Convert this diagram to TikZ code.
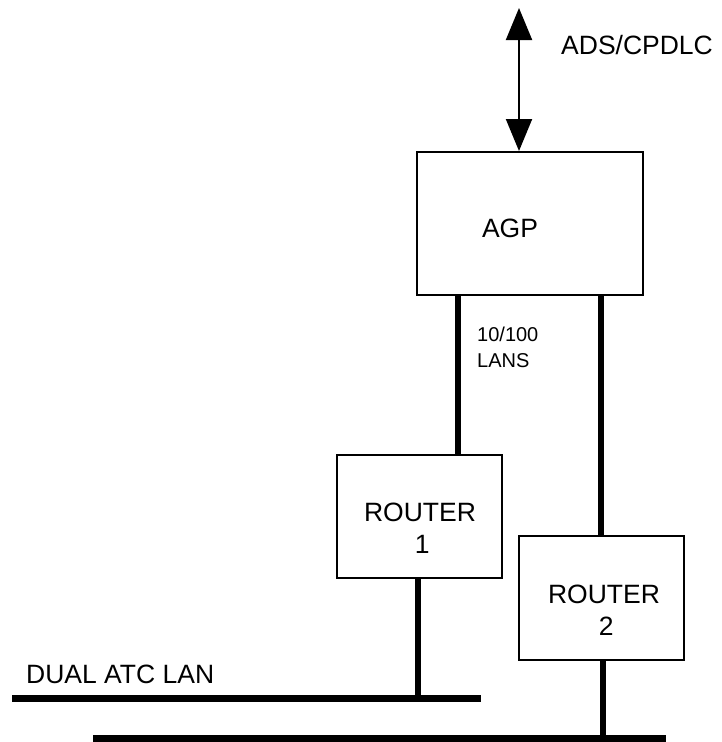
\documentclass[tikz,border=0pt]{standalone}
\usepackage{fontspec}
\setmainfont{Liberation Sans}
\usetikzlibrary{arrows.meta}
\begin{document}
\begin{tikzpicture}[x=1pt,y=-1pt,
  box/.style={draw,line width=2pt,inner sep=0pt},
  lbl/.style={font=\fontsize{26.5}{31}\selectfont,inner sep=0pt},
  link/.style={line width=6pt},
  bus/.style={line width=7pt}]
\useasboundingbox (0,0) rectangle (721,742);
\node[box,minimum width=226pt,minimum height=143pt] (agp) at (530,223.5) {};
\node[lbl] (agpt) at (510,228) {AGP};
\node[box,minimum width=165pt,minimum height=123pt] (r1) at (419.5,516.5) {};
\node[box,minimum width=165pt,minimum height=124pt] (r2) at (601.5,598) {};
\node[lbl,align=center] (r1t) at (420,528) {ROUTER\\[1pt]\,1};
\node[lbl,align=center] (r2t) at (604,610) {ROUTER\\[1pt]\,2};
\node[lbl,anchor=west] (ads) at (561,45) {ADS/CPDLC};
\node[lbl,anchor=west] (dual) at (26,674) {DUAL ATC LAN};
\node[font=\fontsize{20}{26}\selectfont,align=left,anchor=west,inner sep=0pt] (lans) at (477,347) {10/100\\LANS};
\coordinate (top) at (519,8);
\coordinate (b1w) at (12,698);
\coordinate (b1e) at (481,698);
\coordinate (b2w) at (93,738.5);
\coordinate (b2e) at (666,738.5);
\draw[line width=2pt,{Triangle[width=26pt,length=32pt]}-{Triangle[width=26pt,length=32pt]}] (top) -- (519,151) coordinate (agpin);
\draw[link] (458,296) -- (458,455);
\draw[link] (601,296) -- (601,536);
\draw[link] (418,578) -- (418,698);
\draw[link] (603,660) -- (603,738);
\draw[bus] (b1w) -- (b1e);
\draw[bus] (b2w) -- (b2e);
\end{tikzpicture}
\end{document}
